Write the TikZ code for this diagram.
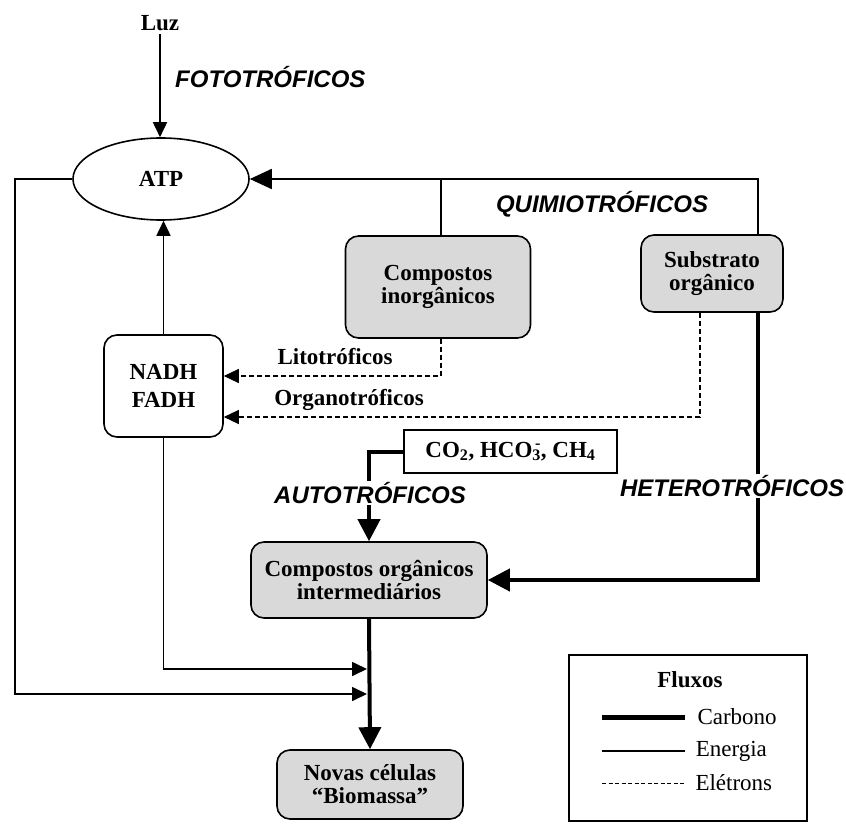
\documentclass[tikz,border=0pt]{standalone}
\usepackage{fontspec}
\setmainfont{Liberation Serif}
\newfontfamily\rotulo{Liberation Sans}
\usetikzlibrary{arrows.meta,positioning,shapes.geometric}

\begin{document}
\begin{tikzpicture}[x=1pt,y=-1pt,
    font=\fontsize{23}{23}\selectfont\bfseries,
    caixa/.style={draw,line width=1.6pt,rounded corners=13pt,fill=gray!30,
                  align=center,inner sep=0pt},
    energia/.style={line width=1.7pt},
    carbono/.style={line width=4pt},
    eletrons/.style={line width=1.3pt,dash pattern=on 5pt off 3pt},
    legcarbono/.style={line width=5pt},
    legenergia/.style={line width=1.6pt},
    legeletrons/.style={line width=1pt,dash pattern=on 4pt off 2.5pt},
    ponta/.style={-{Triangle[length=15pt,width=14pt]}},
    pontagrossa/.style={-{Triangle[length=22pt,width=22pt]}},
    tipo/.style={font=\fontsize{24}{24}\selectfont\rotulo\bfseries\itshape,
                 fill=white,inner sep=1pt}]
  \useasboundingbox (0,0) rectangle (846,824);

  % caixas
  \node (luz) at (160,23) {Luz};
  \node[draw,ellipse,line width=1.6pt,minimum width=176pt,minimum height=82pt]
       (atp) at (161,179) {ATP};
  \node[caixa,minimum width=185pt,minimum height=102pt] (inorg) at (438,287)
       {Compostos\\inorgânicos};
  \node[caixa,minimum width=142pt,minimum height=77pt] (subst) at (712,273.5)
       {Substrato\\orgânico};
  \node[caixa,fill=white,minimum width=119pt,minimum height=102pt,
        font=\fontsize{23}{28}\selectfont\bfseries] (nadh) at (163.5,386)
       {NADH\\FADH};
  \node[draw,line width=1.6pt,minimum width=213pt,minimum height=43pt]
       (co2) at (510.5,451.5)
       {CO\textsubscript{2}, HCO\textsubscript{3}\llap{\textsuperscript{-}}, CH\textsubscript{4}};
  \node[caixa,minimum width=236pt,minimum height=76pt] (inter) at (369,580)
       {Compostos orgânicos\\intermediários};
  \node[caixa,minimum width=186pt,minimum height=69pt] (novas) at (370,784.5)
       {Novas células\\“Biomassa”};

  % pontos de chegada na linha de carbono
  \coordinate (chegaA) at (367,669);
  \coordinate (chegaB) at (367,694);

  % energia
  \draw[energia,ponta] (luz) -- (luz |- atp.north);
  \draw[energia,-{Triangle[length=22pt,width=20pt]}]
       ([xshift=46pt]subst.north) |- (atp.east);
  \draw[energia] (inorg.north -| 441,0) -- (441,179);
  \draw[energia,ponta] (nadh.north) -- (nadh.north |- atp.south);
  \draw[energia,ponta] (atp.west) -| (15,694) -- (chegaB);
  \draw[energia,ponta] (nadh.south) |- (chegaA);

  % eletrons
  \draw[eletrons,ponta] (inorg.south -| 441,0) |- (nadh.east |- 0,376);
  \draw[eletrons,ponta] ([xshift=-12pt]subst.south) |- (nadh.east |- 0,417);

  % carbono
  \draw[carbono,pontagrossa] ([xshift=46pt]subst.south) |- (inter.east);
  \draw[carbono,pontagrossa] (co2.west) -| (inter.north);
  \draw[carbono,pontagrossa] (inter.south) -- (novas.north);

  % rotulos
  \node[tipo,anchor=west] (foto) at (174,77) {FOTOTRÓFICOS};
  \node[tipo] (quimio) at (602,204) {QUIMIOTRÓFICOS};
  \node[tipo] (auto) at (370,493) {AUTOTRÓFICOS};
  \node[tipo] (hetero) at (732,486) {HETEROTRÓFICOS};
  \node (lito) at (335,357) {Litotróficos};
  \node (organo) at (349,400) {Organotróficos};

  % legenda
  \node[draw,line width=1.2pt,minimum width=238pt,minimum height=166pt]
       (legenda) at (688,738) {};
  \node (fluxos) at (690,680) {Fluxos};
  \foreach \y/\estilo/\nome [count=\i] in
      {717/legcarbono/Carbono,751/legenergia/Energia,783/legeletrons/Elétrons}
    \draw[\estilo] (602,\y) -- (685,\y)
      node[anchor=west,inner sep=0pt,xshift=10pt,font=\fontsize{23}{23}\selectfont]
      (leg\i) {\nome};
\end{tikzpicture}
\end{document}
